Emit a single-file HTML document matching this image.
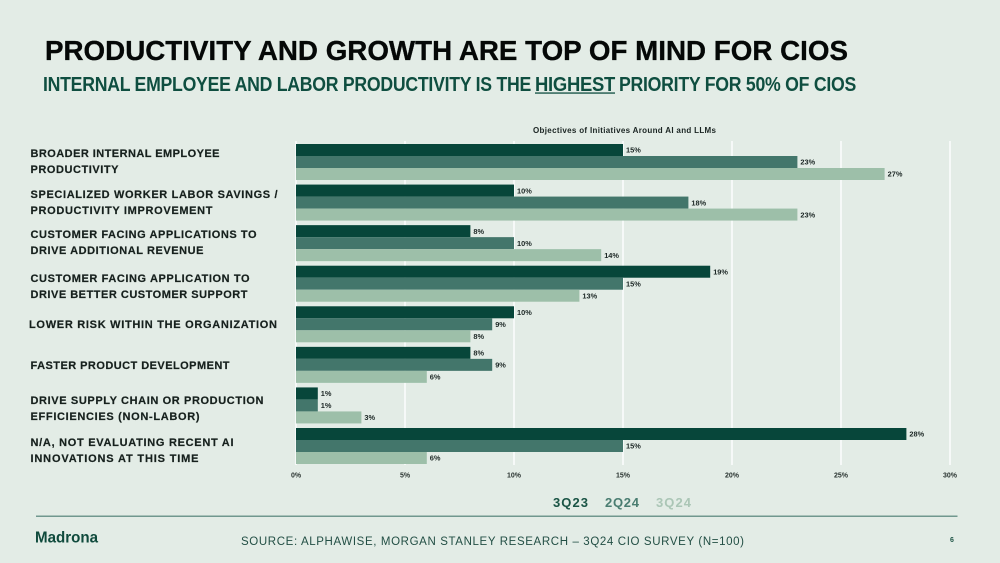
<!DOCTYPE html>
<html lang="en">
<head>
<meta charset="utf-8">
<title>Productivity and growth are top of mind for CIOs</title>
<style>
html,body{margin:0;padding:0;background:#e3ece6;}
svg{display:block;font-family:"Liberation Sans",sans-serif;}
.cat{font-size:11px;font-weight:700;fill:#16201d;stroke:#16201d;stroke-width:.2px;}
</style>
</head>
<body>
<svg id="slide" width="1000" height="563" viewBox="0 0 1000 563" xmlns="http://www.w3.org/2000/svg">
  <rect x="0" y="0" width="1000" height="563" fill="#e3ece6"/>
  <text x="45" y="60" font-size="27.5" font-weight="700" fill="#050807" stroke="#050807" stroke-width="0.3" textLength="803" lengthAdjust="spacingAndGlyphs">PRODUCTIVITY AND GROWTH ARE TOP OF MIND FOR CIOS</text>
  <g font-size="20" font-weight="700" fill="#0f4e40">
    <text x="43" y="91" textLength="488" lengthAdjust="spacingAndGlyphs" letter-spacing="-0.3">INTERNAL EMPLOYEE AND LABOR PRODUCTIVITY IS THE</text>
    <text x="535" y="91" textLength="80" lengthAdjust="spacingAndGlyphs" letter-spacing="-0.3">HIGHEST</text>
    <rect x="535" y="92.4" width="80" height="1.3" fill="#0f4e40"/>
    <text x="619" y="91" textLength="237" lengthAdjust="spacingAndGlyphs" letter-spacing="-0.3">PRIORITY FOR 50% OF CIOS</text>
  </g>
  <text x="533" y="133" font-size="8" font-weight="700" fill="#1a2422" textLength="183" lengthAdjust="spacing">Objectives of Initiatives Around AI and LLMs</text>

  <g id="grid"></g>
  <g id="bars"></g>
  <g id="ticks"></g>

  <g>
    <text class="cat" x="30.5" y="157" textLength="189" lengthAdjust="spacing">BROADER INTERNAL EMPLOYEE</text>
    <text class="cat" x="30.5" y="173" textLength="88" lengthAdjust="spacing">PRODUCTIVITY</text>
    <text class="cat" x="30.5" y="198" textLength="247" lengthAdjust="spacing">SPECIALIZED WORKER LABOR SAVINGS /</text>
    <text class="cat" x="30.5" y="214" textLength="182" lengthAdjust="spacing">PRODUCTIVITY IMPROVEMENT</text>
    <text class="cat" x="30.5" y="238" textLength="226" lengthAdjust="spacing">CUSTOMER FACING APPLICATIONS TO</text>
    <text class="cat" x="30.5" y="254" textLength="173" lengthAdjust="spacing">DRIVE ADDITIONAL REVENUE</text>
    <text class="cat" x="30.5" y="282" textLength="219" lengthAdjust="spacing">CUSTOMER FACING APPLICATION TO</text>
    <text class="cat" x="30.5" y="298" textLength="217" lengthAdjust="spacing">DRIVE BETTER CUSTOMER SUPPORT</text>
    <text class="cat" x="29" y="328" textLength="248" lengthAdjust="spacing">LOWER RISK WITHIN THE ORGANIZATION</text>
    <text class="cat" x="30.5" y="369" textLength="199" lengthAdjust="spacing">FASTER PRODUCT DEVELOPMENT</text>
    <text class="cat" x="30.5" y="404" textLength="233" lengthAdjust="spacing">DRIVE SUPPLY CHAIN OR PRODUCTION</text>
    <text class="cat" x="30.5" y="420" textLength="169" lengthAdjust="spacing">EFFICIENCIES (NON-LABOR)</text>
    <text class="cat" x="30.5" y="446" textLength="203" lengthAdjust="spacing">N/A, NOT EVALUATING RECENT AI</text>
    <text class="cat" x="30.5" y="462" textLength="168" lengthAdjust="spacing">INNOVATIONS AT THIS TIME</text>
  </g>

  <g font-size="13" font-weight="700">
    <text x="553" y="507" fill="#1a5445" textLength="35" lengthAdjust="spacing">3Q23</text>
    <text x="605" y="507" fill="#4a7d71" textLength="34" lengthAdjust="spacing">2Q24</text>
    <text x="656" y="507" fill="#abc6b6" textLength="35" lengthAdjust="spacing">3Q24</text>
  </g>

  <rect x="36" y="515.6" width="921.5" height="1.2" fill="#55837a"/>
  <text x="35" y="542.5" font-size="15.5" font-weight="700" fill="#0f4a3c" textLength="63" lengthAdjust="spacingAndGlyphs">Madrona</text>
  <text x="241" y="545" font-size="11.5" fill="#234f45" textLength="503" lengthAdjust="spacing">SOURCE: ALPHAWISE, MORGAN STANLEY RESEARCH – 3Q24 CIO SURVEY (N=100)</text>
  <text x="952" y="542" font-size="7" font-weight="700" text-anchor="middle" fill="#1f5547">6</text>
</svg>

<script>
const categories = ["Broader internal employee productivity", "Specialized worker labor savings", "Customer facing applications revenue", "Customer facing application support", "Lower risk", "Faster product development", "Supply chain efficiencies", "Not evaluating"];
const seriesNames = ["3Q23", "2Q24", "3Q24"];
const series3Q23 = [15, 10, 8, 19, 10, 8, 1, 28];
const series2Q24 = [23, 18, 10, 15, 9, 9, 1, 15];
const series3Q24 = [27, 23, 14, 13, 8, 6, 3, 6];
const tickValues = [0, 5, 10, 15, 20, 25, 30];

const NS = "http://www.w3.org/2000/svg";
const colors = ["#07463a", "#43766b", "#9dbfa9"];
const allSeries = [series3Q23, series2Q24, series3Q24];

function xScale(v) { return 296 + v * (654 / 30); }
function groupTop(i) { return 144 + i * (284 / 7); }

function make(tag, attrs, parent) {
  const el = document.createElementNS(NS, tag);
  for (const k in attrs) el.setAttribute(k, attrs[k]);
  parent.appendChild(el);
  return el;
}

const gridG = document.getElementById("grid");
const ticksG = document.getElementById("ticks");
tickValues.forEach(function (t) {
  const line = make("rect", { x: xScale(t) - 0.7, y: 141, width: 1.4, height: 324, fill: "#ffffff" }, gridG);
  
  
  const label = make("text", { x: xScale(t), y: 477.5, "font-size": 7, "font-weight": 700, "text-anchor": "middle", fill: "#28322f" }, ticksG);
  
  
  label.textContent = t + "%";
});

const barsG = document.getElementById("bars");
categories.forEach(function (cat, i) {
  allSeries.forEach(function (vals, s) {
    const y = groupTop(i) + s * 12;
    const bar = make("rect", { x: xScale(0), y: y, width: xScale(vals[i]) - xScale(0), height: 12, fill: colors[s] }, barsG);
    
    
    const title = make("title", {}, bar);
    title.textContent = cat + " " + seriesNames[s] + ": " + vals[i] + "%";
    const lab = make("text", { x: xScale(vals[i]) + 3, y: y + 8.7, "font-size": 7.4, "font-weight": 700, fill: "#1c2725" }, barsG);
    
    
    lab.textContent = vals[i] + "%";
  });
});
</script>
</body>
</html>
